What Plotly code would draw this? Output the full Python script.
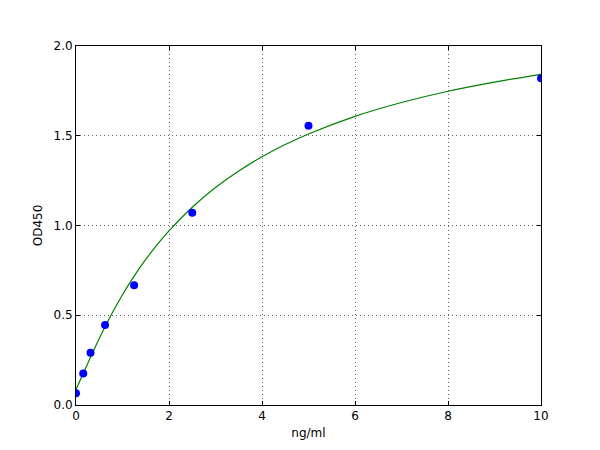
import plotly.graph_objects as go

# standards (ng/ml) and measured OD450
conc = [0, 0.156, 0.3125, 0.625, 1.25, 2.5, 5, 10]
od450 = [0.065, 0.175, 0.291, 0.446, 0.667, 1.071, 1.556, 1.82]

# fitted curve
fit_x = [0, 0.25, 0.5, 0.75, 1, 1.25, 1.5, 1.75, 2, 2.5, 3, 3.5, 4, 4.5, 5, 6, 7, 8, 9, 10]
fit_y = [0.087, 0.230, 0.371, 0.499, 0.614, 0.718, 0.811, 0.895, 0.970, 1.102,
         1.212, 1.304, 1.383, 1.451, 1.510, 1.608, 1.685, 1.748, 1.799, 1.842]

fig = go.Figure()
fig.add_trace(go.Scatter(
    x=fit_x, y=fit_y, mode='lines', line=dict(color='#008000', width=1.2, shape='spline'),
    showlegend=False, hoverinfo='skip'
))
fig.add_trace(go.Scatter(
    x=conc, y=od450, mode='markers',
    marker=dict(color='#0000ff', size=8, line=dict(width=0)),
    showlegend=False
))

axis_style = dict(
    showline=True, linecolor='black', linewidth=1, mirror='ticks',
    ticks='inside', ticklen=4, tickcolor='black',
    showgrid=True, gridcolor='#666666', griddash='1px,3px', gridwidth=1,
    zeroline=False, tickfont=dict(size=12, color='black'),
)

# page body adds ~8px offset, so margins are shifted to keep the axes box in place
fig.update_layout(
    width=600, height=450,
    margin=dict(l=68, r=67, t=38, b=53),
    paper_bgcolor='white', plot_bgcolor='white',
    font=dict(family='DejaVu Sans', size=12, color='black'),
    xaxis=dict(axis_style, range=[0, 10], dtick=2, tickformat='d',
               title=dict(text='ng/ml', font=dict(size=12), standoff=6)),
    yaxis=dict(axis_style, range=[0, 2.0], dtick=0.5, tickformat='.1f',
               title=dict(text='OD450', font=dict(size=12), standoff=8)),
)

fig.write_html("out.html")
